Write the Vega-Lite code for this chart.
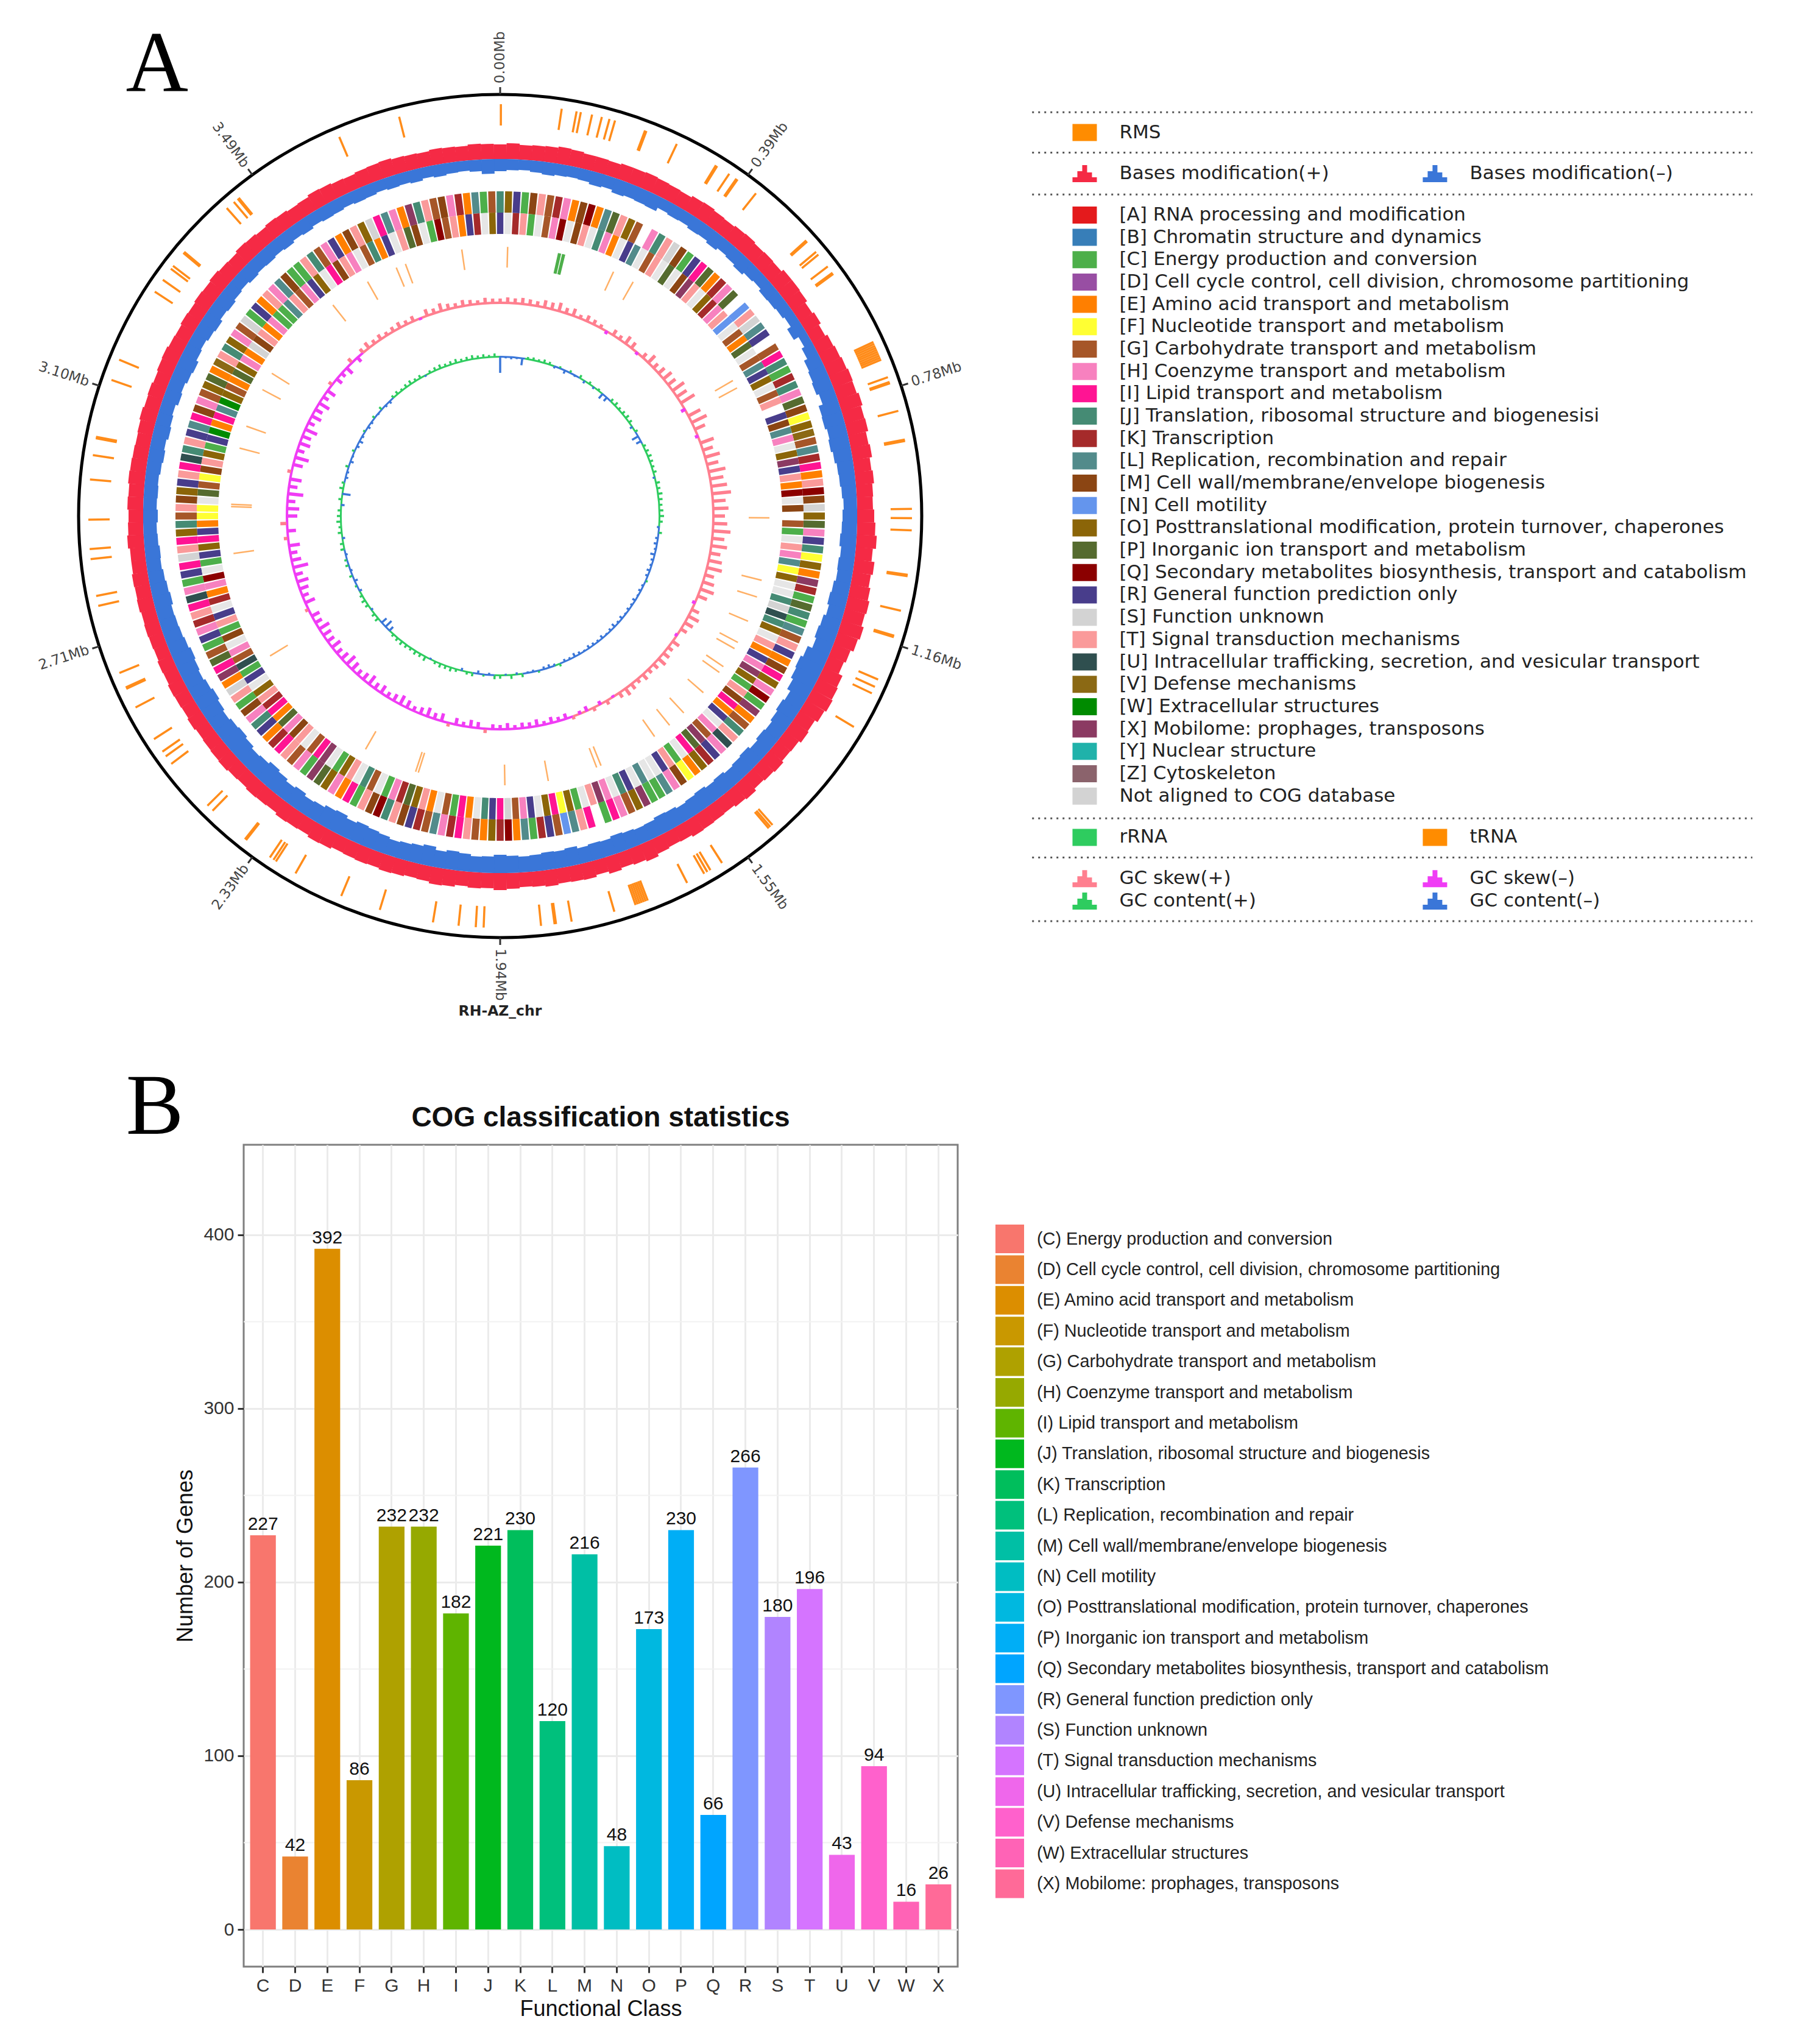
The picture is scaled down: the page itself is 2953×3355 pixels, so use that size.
{"$schema":"https://vega.github.io/schema/vega-lite/v6.json","padding":0,"background":"white","spacing":52,"config":{"view":{"stroke":null}},"resolve":{"scale":{"color":"independent","shape":"independent"},"legend":{"color":"independent"}},
"datasets":{
"ring":[{"a":0,"b":360}],
"ticks":[{"a":0,"t":"0.00Mb"},{"a":36,"t":"0.39Mb"},{"a":72,"t":"0.78Mb"},{"a":108,"t":"1.16Mb"},{"a":144,"t":"1.55Mb"},{"a":180,"t":"1.94Mb"},{"a":216,"t":"2.33Mb"},{"a":252,"t":"2.71Mb"},{"a":288,"t":"3.10Mb"},{"a":324,"t":"3.49Mb"}],
"rms":[{"a":0.1},{"a":8.6},{"a":10.7},{"a":11.3},{"a":12.9},{"a":14.3},{"a":15.4},{"a":16.2},{"a":20.6},{"a":20.8},{"a":25.4},{"a":31.6},{"a":31.8},{"a":33.8},{"a":35},{"a":35.2},{"a":38.4},{"a":48},{"a":48.2},{"a":50.1},{"a":50.6},{"a":52.7},{"a":53.8},{"a":54},{"a":65},{"a":65.3},{"a":65.6},{"a":65.9},{"a":66.2},{"a":66.5},{"a":66.8},{"a":67.1},{"a":67.4},{"a":67.7},{"a":70.3},{"a":71},{"a":71.2},{"a":75.2},{"a":79.3},{"a":79.5},{"a":89},{"a":90.3},{"a":92},{"a":98.2},{"a":98.4},{"a":103.3},{"a":106.9},{"a":107.1},{"a":113.4},{"a":114.5},{"a":115.5},{"a":120.8},{"a":138.6},{"a":139},{"a":139.3},{"a":147.4},{"a":149.3},{"a":149.8},{"a":150.3},{"a":153},{"a":159},{"a":159.3},{"a":159.6},{"a":159.9},{"a":160.2},{"a":160.5},{"a":160.8},{"a":163.9},{"a":170},{"a":172.2},{"a":172.4},{"a":174.3},{"a":182.3},{"a":183.4},{"a":185.8},{"a":189.4},{"a":197},{"a":202.7},{"a":209.8},{"a":213},{"a":213.4},{"a":214},{"a":218.1},{"a":218.3},{"a":224.3},{"a":225.3},{"a":233},{"a":234.3},{"a":235.1},{"a":237.2},{"a":242.3},{"a":245.2},{"a":245.4},{"a":247.6},{"a":257.4},{"a":258.8},{"a":264},{"a":265.4},{"a":269.5},{"a":275.1},{"a":278.5},{"a":280.9},{"a":281.1},{"a":289.3},{"a":292.3},{"a":303},{"a":305},{"a":306.9},{"a":307.4},{"a":309.7},{"a":309.9},{"a":318.4},{"a":319.7},{"a":320.4},{"a":320.6},{"a":337},{"a":345.8}],
"trna":[{"a":1.6},{"a":24.9},{"a":29.6},{"a":59.8},{"a":61.6},{"a":90.4},{"a":103.8},{"a":107.5},{"a":113},{"a":118},{"a":119.5},{"a":124},{"a":125.5},{"a":131},{"a":137},{"a":141},{"a":145},{"a":158},{"a":159},{"a":169.7},{"a":179},{"a":197.7},{"a":198.3},{"a":210},{"a":238.7},{"a":262},{"a":272},{"a":272.5},{"a":284.6},{"a":289.5},{"a":298},{"a":302},{"a":321.6},{"a":330.5},{"a":337.3},{"a":339.4},{"a":351.8}],
"rrna":[{"a":12.6},{"a":12.9},{"a":13.5},{"a":13.8}],
"bmp":[{"a":0,"v":24},{"a":2,"v":26},{"a":4,"v":24},{"a":6,"v":25},{"a":8,"v":26},{"a":10,"v":28},{"a":12,"v":27},{"a":14,"v":25},{"a":16,"v":25},{"a":18,"v":24},{"a":20,"v":26},{"a":22,"v":26},{"a":24,"v":27},{"a":26,"v":26},{"a":28,"v":25},{"a":30,"v":24},{"a":32,"v":27},{"a":34,"v":28},{"a":36,"v":26},{"a":38,"v":25},{"a":40,"v":27},{"a":42,"v":28},{"a":44,"v":26},{"a":46,"v":27},{"a":48,"v":26},{"a":50,"v":30},{"a":52,"v":30},{"a":54,"v":29},{"a":56,"v":25},{"a":58,"v":28},{"a":60,"v":24},{"a":62,"v":28},{"a":64,"v":30},{"a":66,"v":32},{"a":68,"v":34},{"a":70,"v":33},{"a":72,"v":36},{"a":74,"v":33},{"a":76,"v":34},{"a":78,"v":30},{"a":80,"v":32},{"a":82,"v":28},{"a":84,"v":30},{"a":86,"v":27},{"a":88,"v":26},{"a":90,"v":28},{"a":92,"v":30},{"a":94,"v":33},{"a":96,"v":28},{"a":98,"v":33},{"a":100,"v":30},{"a":102,"v":33},{"a":104,"v":36},{"a":106,"v":34},{"a":108,"v":38},{"a":110,"v":35},{"a":112,"v":30},{"a":114,"v":27},{"a":116,"v":34},{"a":118,"v":36},{"a":120,"v":38},{"a":122,"v":35},{"a":124,"v":30},{"a":126,"v":32},{"a":128,"v":28},{"a":130,"v":27},{"a":132,"v":30},{"a":134,"v":28},{"a":136,"v":26},{"a":138,"v":30},{"a":140,"v":28},{"a":142,"v":25},{"a":144,"v":26},{"a":146,"v":27},{"a":148,"v":28},{"a":150,"v":25},{"a":152,"v":24},{"a":154,"v":26},{"a":156,"v":30},{"a":158,"v":27},{"a":160,"v":25},{"a":162,"v":28},{"a":164,"v":24},{"a":166,"v":27},{"a":168,"v":26},{"a":170,"v":25},{"a":172,"v":27},{"a":174,"v":25},{"a":176,"v":24},{"a":178,"v":26},{"a":180,"v":28},{"a":182,"v":25},{"a":184,"v":26},{"a":186,"v":24},{"a":188,"v":27},{"a":190,"v":28},{"a":192,"v":25},{"a":194,"v":24},{"a":196,"v":26},{"a":198,"v":27},{"a":200,"v":25},{"a":202,"v":26},{"a":204,"v":25},{"a":206,"v":24},{"a":208,"v":27},{"a":210,"v":28},{"a":212,"v":25},{"a":214,"v":26},{"a":216,"v":27},{"a":218,"v":24},{"a":220,"v":25},{"a":222,"v":26},{"a":224,"v":24},{"a":226,"v":25},{"a":228,"v":27},{"a":230,"v":26},{"a":232,"v":25},{"a":234,"v":24},{"a":236,"v":26},{"a":238,"v":24},{"a":240,"v":25},{"a":242,"v":26},{"a":244,"v":24},{"a":246,"v":25},{"a":248,"v":23},{"a":250,"v":24},{"a":252,"v":25},{"a":254,"v":24},{"a":256,"v":26},{"a":258,"v":25},{"a":260,"v":26},{"a":262,"v":24},{"a":264,"v":24},{"a":266,"v":27},{"a":268,"v":25},{"a":270,"v":24},{"a":272,"v":26},{"a":274,"v":25},{"a":276,"v":27},{"a":278,"v":26},{"a":280,"v":25},{"a":282,"v":24},{"a":284,"v":25},{"a":286,"v":27},{"a":288,"v":25},{"a":290,"v":26},{"a":292,"v":24},{"a":294,"v":26},{"a":296,"v":27},{"a":298,"v":25},{"a":300,"v":24},{"a":302,"v":26},{"a":304,"v":25},{"a":306,"v":27},{"a":308,"v":26},{"a":310,"v":28},{"a":312,"v":26},{"a":314,"v":25},{"a":316,"v":28},{"a":318,"v":27},{"a":320,"v":25},{"a":322,"v":27},{"a":324,"v":26},{"a":326,"v":24},{"a":328,"v":25},{"a":330,"v":28},{"a":332,"v":27},{"a":334,"v":25},{"a":336,"v":24},{"a":338,"v":26},{"a":340,"v":27},{"a":342,"v":28},{"a":344,"v":26},{"a":346,"v":25},{"a":348,"v":24},{"a":350,"v":26},{"a":352,"v":25},{"a":354,"v":24},{"a":356,"v":26},{"a":358,"v":25}],
"bmm":[{"a":0,"v":20},{"a":2,"v":18},{"a":4,"v":17},{"a":6,"v":19},{"a":8,"v":21},{"a":10,"v":19},{"a":12,"v":18},{"a":14,"v":19},{"a":16,"v":22},{"a":18,"v":20},{"a":20,"v":24},{"a":22,"v":22},{"a":24,"v":23},{"a":26,"v":24},{"a":28,"v":18},{"a":30,"v":20},{"a":32,"v":19},{"a":34,"v":22},{"a":36,"v":21},{"a":38,"v":24},{"a":40,"v":20},{"a":42,"v":22},{"a":44,"v":25},{"a":46,"v":21},{"a":48,"v":19},{"a":50,"v":23},{"a":52,"v":22},{"a":54,"v":20},{"a":56,"v":17},{"a":58,"v":24},{"a":60,"v":15},{"a":62,"v":20},{"a":64,"v":26},{"a":66,"v":28},{"a":68,"v":30},{"a":70,"v":26},{"a":72,"v":33},{"a":74,"v":34},{"a":76,"v":31},{"a":78,"v":33},{"a":80,"v":30},{"a":82,"v":27},{"a":84,"v":26},{"a":86,"v":24},{"a":88,"v":22},{"a":90,"v":24},{"a":92,"v":25},{"a":94,"v":27},{"a":96,"v":24},{"a":98,"v":26},{"a":100,"v":25},{"a":102,"v":28},{"a":104,"v":30},{"a":106,"v":27},{"a":108,"v":31},{"a":110,"v":33},{"a":112,"v":30},{"a":114,"v":38},{"a":116,"v":42},{"a":118,"v":40},{"a":120,"v":36},{"a":122,"v":30},{"a":124,"v":33},{"a":126,"v":30},{"a":128,"v":27},{"a":130,"v":29},{"a":132,"v":26},{"a":134,"v":30},{"a":136,"v":28},{"a":138,"v":26},{"a":140,"v":29},{"a":142,"v":27},{"a":144,"v":30},{"a":146,"v":28},{"a":148,"v":26},{"a":150,"v":29},{"a":152,"v":30},{"a":154,"v":27},{"a":156,"v":26},{"a":158,"v":28},{"a":160,"v":30},{"a":162,"v":27},{"a":164,"v":28},{"a":166,"v":26},{"a":168,"v":30},{"a":170,"v":28},{"a":172,"v":29},{"a":174,"v":27},{"a":176,"v":26},{"a":178,"v":28},{"a":180,"v":30},{"a":182,"v":27},{"a":184,"v":26},{"a":186,"v":29},{"a":188,"v":31},{"a":190,"v":28},{"a":192,"v":33},{"a":194,"v":30},{"a":196,"v":28},{"a":198,"v":26},{"a":200,"v":29},{"a":202,"v":31},{"a":204,"v":33},{"a":206,"v":30},{"a":208,"v":34},{"a":210,"v":32},{"a":212,"v":28},{"a":214,"v":26},{"a":216,"v":30},{"a":218,"v":27},{"a":220,"v":31},{"a":222,"v":34},{"a":224,"v":30},{"a":226,"v":28},{"a":228,"v":32},{"a":230,"v":35},{"a":232,"v":33},{"a":234,"v":30},{"a":236,"v":33},{"a":238,"v":36},{"a":240,"v":33},{"a":242,"v":30},{"a":244,"v":32},{"a":246,"v":34},{"a":248,"v":31},{"a":250,"v":29},{"a":252,"v":28},{"a":254,"v":27},{"a":256,"v":30},{"a":258,"v":28},{"a":260,"v":26},{"a":262,"v":24},{"a":264,"v":25},{"a":266,"v":23},{"a":268,"v":22},{"a":270,"v":24},{"a":272,"v":22},{"a":274,"v":23},{"a":276,"v":22},{"a":278,"v":24},{"a":280,"v":26},{"a":282,"v":24},{"a":284,"v":27},{"a":286,"v":25},{"a":288,"v":23},{"a":290,"v":27},{"a":292,"v":25},{"a":294,"v":28},{"a":296,"v":30},{"a":298,"v":26},{"a":300,"v":24},{"a":302,"v":27},{"a":304,"v":29},{"a":306,"v":25},{"a":308,"v":27},{"a":310,"v":24},{"a":312,"v":22},{"a":314,"v":25},{"a":316,"v":23},{"a":318,"v":24},{"a":320,"v":22},{"a":322,"v":24},{"a":324,"v":21},{"a":326,"v":23},{"a":328,"v":20},{"a":330,"v":22},{"a":332,"v":21},{"a":334,"v":19},{"a":336,"v":21},{"a":338,"v":20},{"a":340,"v":18},{"a":342,"v":20},{"a":344,"v":19},{"a":346,"v":21},{"a":348,"v":18},{"a":350,"v":20},{"a":352,"v":18},{"a":354,"v":17},{"a":356,"v":19},{"a":358,"v":24}],
"cogo":[{"a":0,"c":"J"},{"a":1.5,"c":"O"},{"a":3,"c":"R"},{"a":4.5,"c":"C"},{"a":6,"c":"M"},{"a":7.5,"c":"T"},{"a":9,"c":"G"},{"a":10.5,"c":"K"},{"a":12,"c":"H"},{"a":13.5,"c":"E"},{"a":15,"c":"M"},{"a":16.5,"c":"Q"},{"a":18,"c":"E"},{"a":19.5,"c":"L"},{"a":21,"c":"P"},{"a":22.5,"c":"T"},{"a":24,"c":"O"},{"a":25.5,"c":"G"},{"a":28.5,"c":"H"},{"a":30,"c":"J"},{"a":31.5,"c":"T"},{"a":33,"c":"S"},{"a":34.5,"c":"M"},{"a":36,"c":"C"},{"a":37.5,"c":"R"},{"a":39,"c":"I"},{"a":40.5,"c":"P"},{"a":42,"c":"E"},{"a":43.5,"c":"K"},{"a":45,"c":"H"},{"a":46.5,"c":"P"},{"a":49.5,"c":"N"},{"a":51,"c":"T"},{"a":52.5,"c":"S"},{"a":54,"c":"L"},{"a":55.5,"c":"R"},{"a":58.5,"c":"G"},{"a":60,"c":"I"},{"a":61.5,"c":"J"},{"a":63,"c":"C"},{"a":64.5,"c":"K"},{"a":66,"c":"J"},{"a":67.5,"c":"H"},{"a":69,"c":"P"},{"a":70.5,"c":"M"},{"a":72,"c":"F"},{"a":73.5,"c":"O"},{"a":75,"c":"V"},{"a":76.5,"c":"G"},{"a":78,"c":"L"},{"a":79.5,"c":"K"},{"a":81,"c":"I"},{"a":82.5,"c":"E"},{"a":84,"c":"T"},{"a":85.5,"c":"Q"},{"a":87,"c":"M"},{"a":88.5,"c":"S"},{"a":90,"c":"O"},{"a":91.5,"c":"P"},{"a":93,"c":"H"},{"a":94.5,"c":"R"},{"a":96,"c":"J"},{"a":97.5,"c":"F"},{"a":99,"c":"O"},{"a":100.5,"c":"E"},{"a":102,"c":"X"},{"a":103.5,"c":"K"},{"a":105,"c":"C"},{"a":106.5,"c":"P"},{"a":108,"c":"J"},{"a":109.5,"c":"C"},{"a":111,"c":"L"},{"a":112.5,"c":"G"},{"a":114,"c":"T"},{"a":115.5,"c":"R"},{"a":117,"c":"E"},{"a":118.5,"c":"M"},{"a":120,"c":"I"},{"a":121.5,"c":"O"},{"a":123,"c":"H"},{"a":124.5,"c":"Q"},{"a":126,"c":"C"},{"a":127.5,"c":"X"},{"a":129,"c":"E"},{"a":130.5,"c":"G"},{"a":132,"c":"J"},{"a":133.5,"c":"T"},{"a":135,"c":"U"},{"a":136.5,"c":"H"},{"a":138,"c":"R"},{"a":139.5,"c":"K"},{"a":141,"c":"O"},{"a":142.5,"c":"E"},{"a":144,"c":"F"},{"a":145.5,"c":"M"},{"a":147,"c":"H"},{"a":148.5,"c":"L"},{"a":150,"c":"C"},{"a":151.5,"c":"C"},{"a":153,"c":"X"},{"a":154.5,"c":"O"},{"a":156,"c":"G"},{"a":157.5,"c":"H"},{"a":159,"c":"I"},{"a":160.5,"c":"C"},{"a":163.5,"c":"I"},{"a":165,"c":"T"},{"a":166.5,"c":"L"},{"a":168,"c":"N"},{"a":169.5,"c":"G"},{"a":171,"c":"R"},{"a":172.5,"c":"K"},{"a":174,"c":"C"},{"a":175.5,"c":"L"},{"a":177,"c":"E"},{"a":178.5,"c":"Q"},{"a":180,"c":"K"},{"a":181.5,"c":"O"},{"a":183,"c":"E"},{"a":184.5,"c":"G"},{"a":186,"c":"T"},{"a":187.5,"c":"I"},{"a":189,"c":"K"},{"a":190.5,"c":"H"},{"a":192,"c":"L"},{"a":193.5,"c":"G"},{"a":195,"c":"K"},{"a":196.5,"c":"R"},{"a":198,"c":"M"},{"a":199.5,"c":"T"},{"a":201,"c":"J"},{"a":202.5,"c":"Q"},{"a":204,"c":"M"},{"a":205.5,"c":"T"},{"a":207,"c":"C"},{"a":208.5,"c":"I"},{"a":210,"c":"E"},{"a":211.5,"c":"H"},{"a":213,"c":"O"},{"a":214.5,"c":"P"},{"a":216,"c":"X"},{"a":217.5,"c":"C"},{"a":219,"c":"H"},{"a":220.5,"c":"G"},{"a":222,"c":"T"},{"a":223.5,"c":"I"},{"a":225,"c":"K"},{"a":226.5,"c":"E"},{"a":228,"c":"R"},{"a":229.5,"c":"J"},{"a":231,"c":"H"},{"a":232.5,"c":"M"},{"a":234,"c":"C"},{"a":235.5,"c":"T"},{"a":237,"c":"S"},{"a":238.5,"c":"E"},{"a":240,"c":"X"},{"a":241.5,"c":"I"},{"a":243,"c":"P"},{"a":244.5,"c":"G"},{"a":246,"c":"C"},{"a":247.5,"c":"R"},{"a":249,"c":"H"},{"a":250.5,"c":"K"},{"a":252,"c":"T"},{"a":253.5,"c":"I"},{"a":255,"c":"U"},{"a":256.5,"c":"H"},{"a":258,"c":"C"},{"a":259.5,"c":"R"},{"a":261,"c":"I"},{"a":262.5,"c":"S"},{"a":264,"c":"T"},{"a":265.5,"c":"I"},{"a":267,"c":"O"},{"a":268.5,"c":"J"},{"a":270,"c":"G"},{"a":271.5,"c":"T"},{"a":273,"c":"M"},{"a":274.5,"c":"O"},{"a":276,"c":"R"},{"a":277.5,"c":"T"},{"a":279,"c":"I"},{"a":280.5,"c":"U"},{"a":282,"c":"J"},{"a":283.5,"c":"T"},{"a":285,"c":"R"},{"a":286.5,"c":"L"},{"a":288,"c":"I"},{"a":289.5,"c":"M"},{"a":291,"c":"H"},{"a":292.5,"c":"G"},{"a":294,"c":"O"},{"a":295.5,"c":"P"},{"a":297,"c":"E"},{"a":298.5,"c":"V"},{"a":300,"c":"T"},{"a":301.5,"c":"J"},{"a":303,"c":"O"},{"a":304.5,"c":"H"},{"a":306,"c":"G"},{"a":307.5,"c":"S"},{"a":309,"c":"C"},{"a":310.5,"c":"R"},{"a":312,"c":"E"},{"a":313.5,"c":"T"},{"a":315,"c":"H"},{"a":316.5,"c":"L"},{"a":318,"c":"M"},{"a":319.5,"c":"C"},{"a":321,"c":"C"},{"a":322.5,"c":"T"},{"a":324,"c":"J"},{"a":325.5,"c":"G"},{"a":327,"c":"H"},{"a":328.5,"c":"R"},{"a":330,"c":"E"},{"a":331.5,"c":"M"},{"a":333,"c":"T"},{"a":334.5,"c":"O"},{"a":336,"c":"S"},{"a":337.5,"c":"I"},{"a":339,"c":"L"},{"a":340.5,"c":"H"},{"a":342,"c":"E"},{"a":343.5,"c":"X"},{"a":345,"c":"J"},{"a":346.5,"c":"T"},{"a":348,"c":"G"},{"a":349.5,"c":"M"},{"a":351,"c":"H"},{"a":352.5,"c":"K"},{"a":354,"c":"E"},{"a":355.5,"c":"L"},{"a":357,"c":"C"},{"a":358.5,"c":"G"}],
"cogi":[{"a":0,"c":"R"},{"a":1.5,"c":"-"},{"a":3,"c":"K"},{"a":4.5,"c":"T"},{"a":6,"c":"C"},{"a":7.5,"c":"-"},{"a":9,"c":"G"},{"a":10.5,"c":"H"},{"a":12,"c":"Q"},{"a":13.5,"c":"-"},{"a":15,"c":"M"},{"a":16.5,"c":"T"},{"a":18,"c":"-"},{"a":19.5,"c":"J"},{"a":21,"c":"H"},{"a":22.5,"c":"E"},{"a":24,"c":"-"},{"a":25.5,"c":"R"},{"a":27,"c":"L"},{"a":28.5,"c":"-"},{"a":30,"c":"G"},{"a":31.5,"c":"T"},{"a":33,"c":"-"},{"a":34.5,"c":"P"},{"a":36,"c":"-"},{"a":37.5,"c":"M"},{"a":39,"c":"X"},{"a":40.5,"c":"T"},{"a":42,"c":"-"},{"a":43.5,"c":"O"},{"a":45,"c":"K"},{"a":46.5,"c":"H"},{"a":48,"c":"T"},{"a":49.5,"c":"N"},{"a":51,"c":"-"},{"a":52.5,"c":"G"},{"a":54,"c":"E"},{"a":55.5,"c":"P"},{"a":57,"c":"-"},{"a":58.5,"c":"G"},{"a":60,"c":"L"},{"a":61.5,"c":"R"},{"a":63,"c":"O"},{"a":64.5,"c":"-"},{"a":66,"c":"G"},{"a":67.5,"c":"T"},{"a":70.5,"c":"R"},{"a":72,"c":"M"},{"a":73.5,"c":"L"},{"a":75,"c":"H"},{"a":76.5,"c":"-"},{"a":78,"c":"O"},{"a":79.5,"c":"X"},{"a":81,"c":"R"},{"a":82.5,"c":"T"},{"a":84,"c":"E"},{"a":85.5,"c":"Q"},{"a":87,"c":"-"},{"a":88.5,"c":"M"},{"a":91.5,"c":"G"},{"a":93,"c":"C"},{"a":94.5,"c":"-"},{"a":96,"c":"T"},{"a":97.5,"c":"H"},{"a":99,"c":"L"},{"a":100.5,"c":"F"},{"a":102,"c":"O"},{"a":103.5,"c":"-"},{"a":105,"c":"-"},{"a":106.5,"c":"J"},{"a":108,"c":"S"},{"a":109.5,"c":"U"},{"a":111,"c":"J"},{"a":112.5,"c":"O"},{"a":114,"c":"-"},{"a":115.5,"c":"T"},{"a":117,"c":"E"},{"a":118.5,"c":"R"},{"a":120,"c":"H"},{"a":121.5,"c":"X"},{"a":123,"c":"O"},{"a":124.5,"c":"C"},{"a":126,"c":"T"},{"a":127.5,"c":"M"},{"a":129,"c":"I"},{"a":130.5,"c":"E"},{"a":132,"c":"R"},{"a":133.5,"c":"-"},{"a":135,"c":"H"},{"a":136.5,"c":"G"},{"a":138,"c":"X"},{"a":139.5,"c":"P"},{"a":141,"c":"I"},{"a":142.5,"c":"-"},{"a":144,"c":"C"},{"a":145.5,"c":"T"},{"a":147,"c":"R"},{"a":148.5,"c":"-"},{"a":150,"c":"-"},{"a":151.5,"c":"L"},{"a":153,"c":"-"},{"a":154.5,"c":"R"},{"a":156,"c":"J"},{"a":157.5,"c":"-"},{"a":159,"c":"H"},{"a":160.5,"c":"X"},{"a":162,"c":"T"},{"a":163.5,"c":"-"},{"a":165,"c":"C"},{"a":166.5,"c":"O"},{"a":168,"c":"F"},{"a":169.5,"c":"I"},{"a":171,"c":"O"},{"a":172.5,"c":"-"},{"a":174,"c":"R"},{"a":175.5,"c":"H"},{"a":177,"c":"G"},{"a":178.5,"c":"S"},{"a":180,"c":"I"},{"a":181.5,"c":"R"},{"a":183,"c":"J"},{"a":184.5,"c":"-"},{"a":186,"c":"E"},{"a":187.5,"c":"I"},{"a":189,"c":"C"},{"a":190.5,"c":"G"},{"a":192,"c":"-"},{"a":193.5,"c":"E"},{"a":195,"c":"T"},{"a":196.5,"c":"O"},{"a":198,"c":"P"},{"a":199.5,"c":"K"},{"a":201,"c":"H"},{"a":202.5,"c":"C"},{"a":204,"c":"-"},{"a":205.5,"c":"G"},{"a":207,"c":"J"},{"a":208.5,"c":"-"},{"a":210,"c":"T"},{"a":211.5,"c":"O"},{"a":213,"c":"C"},{"a":214.5,"c":"-"},{"a":216,"c":"X"},{"a":217.5,"c":"I"},{"a":219,"c":"G"},{"a":220.5,"c":"-"},{"a":222,"c":"T"},{"a":223.5,"c":"M"},{"a":225,"c":"H"},{"a":226.5,"c":"P"},{"a":228,"c":"E"},{"a":229.5,"c":"I"},{"a":231,"c":"K"},{"a":232.5,"c":"T"},{"a":234,"c":"O"},{"a":235.5,"c":"-"},{"a":237,"c":"R"},{"a":238.5,"c":"C"},{"a":240,"c":"U"},{"a":241.5,"c":"G"},{"a":243,"c":"H"},{"a":244.5,"c":"-"},{"a":246,"c":"M"},{"a":247.5,"c":"C"},{"a":249,"c":"T"},{"a":250.5,"c":"R"},{"a":252,"c":"-"},{"a":253.5,"c":"K"},{"a":255,"c":"E"},{"a":256.5,"c":"H"},{"a":258,"c":"Q"},{"a":259.5,"c":"-"},{"a":261,"c":"C"},{"a":262.5,"c":"R"},{"a":264,"c":"O"},{"a":265.5,"c":"I"},{"a":267,"c":"R"},{"a":268.5,"c":"E"},{"a":270,"c":"F"},{"a":271.5,"c":"F"},{"a":273,"c":"-"},{"a":274.5,"c":"P"},{"a":276,"c":"G"},{"a":277.5,"c":"F"},{"a":279,"c":"M"},{"a":280.5,"c":"T"},{"a":282,"c":"O"},{"a":283.5,"c":"C"},{"a":285,"c":"R"},{"a":286.5,"c":"W"},{"a":288,"c":"E"},{"a":289.5,"c":"I"},{"a":291,"c":"L"},{"a":292.5,"c":"W"},{"a":294,"c":"O"},{"a":295.5,"c":"G"},{"a":297,"c":"E"},{"a":298.5,"c":"P"},{"a":300,"c":"O"},{"a":301.5,"c":"H"},{"a":303,"c":"E"},{"a":304.5,"c":"S"},{"a":306,"c":"M"},{"a":307.5,"c":"T"},{"a":309,"c":"E"},{"a":310.5,"c":"H"},{"a":312,"c":"C"},{"a":313.5,"c":"C"},{"a":315,"c":"L"},{"a":316.5,"c":"T"},{"a":318,"c":"G"},{"a":319.5,"c":"H"},{"a":321,"c":"R"},{"a":322.5,"c":"O"},{"a":324,"c":"-"},{"a":325.5,"c":"I"},{"a":327,"c":"M"},{"a":328.5,"c":"T"},{"a":330,"c":"H"},{"a":331.5,"c":"-"},{"a":333,"c":"G"},{"a":334.5,"c":"J"},{"a":336,"c":"E"},{"a":337.5,"c":"R"},{"a":339,"c":"-"},{"a":340.5,"c":"T"},{"a":342,"c":"P"},{"a":343.5,"c":"M"},{"a":345,"c":"-"},{"a":346.5,"c":"C"},{"a":348,"c":"Q"},{"a":349.5,"c":"G"},{"a":351,"c":"T"},{"a":352.5,"c":"E"},{"a":354,"c":"R"},{"a":355.5,"c":"K"},{"a":357,"c":"-"},{"a":358.5,"c":"O"}],
"skew":[{"a":0,"v":6},{"a":2,"v":8},{"a":4,"v":7},{"a":6,"v":9},{"a":8,"v":8},{"a":10,"v":7},{"a":12,"v":11},{"a":14,"v":10},{"a":16,"v":13},{"a":18,"v":8},{"a":20,"v":11},{"a":22,"v":5},{"a":24,"v":9},{"a":26,"v":7},{"a":28,"v":5},{"a":30,"v":-6},{"a":32,"v":9},{"a":34,"v":6},{"a":36,"v":13},{"a":38,"v":10},{"a":40,"v":-5},{"a":42,"v":8},{"a":44,"v":15},{"a":46,"v":9},{"a":48,"v":12},{"a":50,"v":16},{"a":52,"v":14},{"a":54,"v":22},{"a":56,"v":18},{"a":58,"v":25},{"a":60,"v":-8},{"a":62,"v":21},{"a":64,"v":26},{"a":66,"v":17},{"a":68,"v":-6},{"a":70,"v":22},{"a":72,"v":16},{"a":74,"v":24},{"a":76,"v":18},{"a":78,"v":27},{"a":80,"v":21},{"a":82,"v":25},{"a":84,"v":30},{"a":86,"v":20},{"a":88,"v":24},{"a":90,"v":18},{"a":92,"v":22},{"a":94,"v":28},{"a":96,"v":19},{"a":98,"v":25},{"a":100,"v":16},{"a":102,"v":21},{"a":104,"v":24},{"a":106,"v":14},{"a":108,"v":18},{"a":110,"v":22},{"a":112,"v":15},{"a":114,"v":-6},{"a":116,"v":12},{"a":118,"v":18},{"a":120,"v":14},{"a":122,"v":10},{"a":124,"v":-5},{"a":126,"v":12},{"a":128,"v":8},{"a":130,"v":11},{"a":132,"v":14},{"a":134,"v":9},{"a":136,"v":7},{"a":138,"v":10},{"a":140,"v":6},{"a":142,"v":9},{"a":144,"v":12},{"a":146,"v":8},{"a":148,"v":-4},{"a":150,"v":6},{"a":152,"v":-7},{"a":154,"v":5},{"a":156,"v":-9},{"a":158,"v":-6},{"a":160,"v":4},{"a":162,"v":-10},{"a":164,"v":-8},{"a":166,"v":-11},{"a":168,"v":-7},{"a":170,"v":-12},{"a":172,"v":-9},{"a":174,"v":-10},{"a":176,"v":-7},{"a":178,"v":-11},{"a":180,"v":-8},{"a":182,"v":-9},{"a":184,"v":6},{"a":186,"v":-11},{"a":188,"v":-13},{"a":190,"v":-8},{"a":192,"v":-12},{"a":194,"v":5},{"a":196,"v":-14},{"a":198,"v":-11},{"a":200,"v":-16},{"a":202,"v":-12},{"a":204,"v":-9},{"a":206,"v":-14},{"a":208,"v":-17},{"a":210,"v":-13},{"a":212,"v":-10},{"a":214,"v":-15},{"a":216,"v":-12},{"a":218,"v":-18},{"a":220,"v":-14},{"a":222,"v":-11},{"a":224,"v":-16},{"a":226,"v":-20},{"a":228,"v":-15},{"a":230,"v":-12},{"a":232,"v":-18},{"a":234,"v":-14},{"a":236,"v":-16},{"a":238,"v":-20},{"a":240,"v":-13},{"a":242,"v":-15},{"a":244,"v":5},{"a":246,"v":-18},{"a":248,"v":-12},{"a":250,"v":-16},{"a":252,"v":-20},{"a":254,"v":-14},{"a":256,"v":-26},{"a":258,"v":-17},{"a":260,"v":-13},{"a":262,"v":-19},{"a":264,"v":6},{"a":266,"v":-15},{"a":268,"v":10},{"a":270,"v":-18},{"a":272,"v":-21},{"a":274,"v":-14},{"a":276,"v":-26},{"a":278,"v":-15},{"a":280,"v":-20},{"a":282,"v":6},{"a":284,"v":-17},{"a":286,"v":-24},{"a":288,"v":-13},{"a":290,"v":-19},{"a":292,"v":-16},{"a":294,"v":-22},{"a":296,"v":-12},{"a":298,"v":-18},{"a":300,"v":-14},{"a":302,"v":-20},{"a":304,"v":-11},{"a":306,"v":-16},{"a":308,"v":6},{"a":310,"v":-12},{"a":312,"v":-9},{"a":314,"v":-14},{"a":316,"v":8},{"a":318,"v":-10},{"a":320,"v":7},{"a":322,"v":10},{"a":324,"v":6},{"a":326,"v":8},{"a":328,"v":5},{"a":330,"v":7},{"a":332,"v":9},{"a":334,"v":6},{"a":336,"v":8},{"a":338,"v":-4},{"a":340,"v":10},{"a":342,"v":7},{"a":344,"v":12},{"a":346,"v":8},{"a":348,"v":6},{"a":350,"v":9},{"a":352,"v":7},{"a":354,"v":5},{"a":356,"v":8},{"a":358,"v":6}],
"gc":[{"a":0,"v":-27},{"a":2,"v":-3},{"a":4,"v":-4},{"a":6,"v":-3},{"a":8,"v":-12},{"a":10,"v":3},{"a":12,"v":4},{"a":14,"v":3},{"a":16,"v":5},{"a":18,"v":4},{"a":20,"v":-4},{"a":22,"v":3},{"a":24,"v":-6},{"a":26,"v":4},{"a":28,"v":-3},{"a":30,"v":5},{"a":32,"v":-5},{"a":34,"v":4},{"a":36,"v":-4},{"a":38,"v":3},{"a":40,"v":-10},{"a":42,"v":-8},{"a":44,"v":5},{"a":46,"v":6},{"a":48,"v":4},{"a":50,"v":5},{"a":52,"v":6},{"a":54,"v":5},{"a":56,"v":-5},{"a":58,"v":4},{"a":60,"v":-12},{"a":62,"v":-9},{"a":64,"v":4},{"a":66,"v":5},{"a":68,"v":6},{"a":70,"v":5},{"a":72,"v":4},{"a":74,"v":5},{"a":76,"v":-4},{"a":78,"v":6},{"a":80,"v":5},{"a":82,"v":7},{"a":84,"v":6},{"a":86,"v":5},{"a":88,"v":6},{"a":90,"v":7},{"a":92,"v":5},{"a":94,"v":-4},{"a":96,"v":5},{"a":98,"v":-5},{"a":100,"v":-6},{"a":102,"v":-4},{"a":104,"v":-8},{"a":106,"v":-5},{"a":108,"v":-4},{"a":110,"v":-6},{"a":112,"v":-5},{"a":114,"v":3},{"a":116,"v":-4},{"a":118,"v":-5},{"a":120,"v":-3},{"a":122,"v":-6},{"a":124,"v":-4},{"a":126,"v":-5},{"a":128,"v":-3},{"a":130,"v":-6},{"a":132,"v":-4},{"a":134,"v":-7},{"a":136,"v":-5},{"a":138,"v":-3},{"a":140,"v":-6},{"a":142,"v":-4},{"a":144,"v":-5},{"a":146,"v":-6},{"a":148,"v":-3},{"a":150,"v":-5},{"a":152,"v":-7},{"a":154,"v":-4},{"a":156,"v":-5},{"a":158,"v":4},{"a":160,"v":-4},{"a":162,"v":-6},{"a":164,"v":-5},{"a":166,"v":3},{"a":168,"v":-4},{"a":170,"v":-3},{"a":172,"v":5},{"a":174,"v":-4},{"a":176,"v":6},{"a":178,"v":-3},{"a":180,"v":5},{"a":182,"v":6},{"a":184,"v":-4},{"a":186,"v":3},{"a":188,"v":-6},{"a":190,"v":5},{"a":192,"v":4},{"a":194,"v":-5},{"a":196,"v":4},{"a":198,"v":6},{"a":200,"v":5},{"a":202,"v":6},{"a":204,"v":4},{"a":206,"v":-3},{"a":208,"v":7},{"a":210,"v":5},{"a":212,"v":6},{"a":214,"v":4},{"a":216,"v":5},{"a":218,"v":6},{"a":220,"v":5},{"a":222,"v":4},{"a":224,"v":-9},{"a":226,"v":-14},{"a":228,"v":-11},{"a":230,"v":6},{"a":232,"v":5},{"a":234,"v":-4},{"a":236,"v":5},{"a":238,"v":6},{"a":240,"v":4},{"a":242,"v":-5},{"a":244,"v":3},{"a":246,"v":-6},{"a":248,"v":5},{"a":250,"v":-4},{"a":252,"v":5},{"a":254,"v":4},{"a":256,"v":-4},{"a":258,"v":6},{"a":260,"v":5},{"a":262,"v":-5},{"a":264,"v":6},{"a":266,"v":4},{"a":268,"v":7},{"a":270,"v":6},{"a":272,"v":5},{"a":274,"v":-6},{"a":276,"v":5},{"a":278,"v":-14},{"a":280,"v":6},{"a":282,"v":4},{"a":284,"v":-5},{"a":286,"v":-4},{"a":288,"v":5},{"a":290,"v":-6},{"a":292,"v":-3},{"a":294,"v":4},{"a":296,"v":-5},{"a":298,"v":-7},{"a":300,"v":-4},{"a":302,"v":3},{"a":304,"v":-5},{"a":306,"v":-4},{"a":308,"v":4},{"a":310,"v":-3},{"a":312,"v":5},{"a":314,"v":-4},{"a":316,"v":-5},{"a":318,"v":4},{"a":320,"v":5},{"a":322,"v":3},{"a":324,"v":5},{"a":326,"v":6},{"a":328,"v":4},{"a":330,"v":5},{"a":332,"v":-3},{"a":334,"v":4},{"a":336,"v":5},{"a":338,"v":6},{"a":340,"v":4},{"a":342,"v":5},{"a":344,"v":6},{"a":346,"v":4},{"a":348,"v":5},{"a":350,"v":6},{"a":352,"v":4},{"a":354,"v":5},{"a":356,"v":3},{"a":358,"v":5}],
"gcbase":[{"a":0,"b":9,"s":"m"},{"a":9,"b":20,"s":"p"},{"a":20,"b":30,"s":"m"},{"a":30,"b":40,"s":"p"},{"a":40,"b":44,"s":"m"},{"a":44,"b":58,"s":"p"},{"a":58,"b":63,"s":"m"},{"a":63,"b":94,"s":"p"},{"a":94,"b":158,"s":"m"},{"a":158,"b":160,"s":"p"},{"a":160,"b":172,"s":"m"},{"a":172,"b":182,"s":"p"},{"a":182,"b":190,"s":"m"},{"a":190,"b":224,"s":"p"},{"a":224,"b":229,"s":"m"},{"a":229,"b":242,"s":"p"},{"a":242,"b":258,"s":"m"},{"a":258,"b":282,"s":"p"},{"a":282,"b":318,"s":"m"},{"a":318,"b":360,"s":"p"}],
"skewbase":[{"a":0,"b":160,"s":"p"},{"a":160,"b":320,"s":"m"},{"a":320,"b":360,"s":"p"}],
"legendA":[{"col":0,"row":-3.69,"label":"RMS","key":"RMS","kind":"box"},{"col":0,"row":-1.85,"label":"Bases modification(+)","key":"b+","kind":"hist"},{"col":1,"row":-1.85,"label":"Bases modification(–)","key":"b-","kind":"hist"},{"col":0,"row":0,"label":"[A] RNA processing and modification","key":"A","kind":"box"},{"col":0,"row":1,"label":"[B] Chromatin structure and dynamics","key":"B","kind":"box"},{"col":0,"row":2,"label":"[C] Energy production and conversion","key":"C","kind":"box"},{"col":0,"row":3,"label":"[D] Cell cycle control, cell division, chromosome partitioning","key":"D","kind":"box"},{"col":0,"row":4,"label":"[E] Amino acid transport and metabolism","key":"E","kind":"box"},{"col":0,"row":5,"label":"[F] Nucleotide transport and metabolism","key":"F","kind":"box"},{"col":0,"row":6,"label":"[G] Carbohydrate transport and metabolism","key":"G","kind":"box"},{"col":0,"row":7,"label":"[H] Coenzyme transport and metabolism","key":"H","kind":"box"},{"col":0,"row":8,"label":"[I] Lipid transport and metabolism","key":"I","kind":"box"},{"col":0,"row":9,"label":"[J] Translation, ribosomal structure and biogenesisi","key":"J","kind":"box"},{"col":0,"row":10,"label":"[K] Transcription","key":"K","kind":"box"},{"col":0,"row":11,"label":"[L] Replication, recombination and repair","key":"L","kind":"box"},{"col":0,"row":12,"label":"[M] Cell wall/membrane/envelope biogenesis","key":"M","kind":"box"},{"col":0,"row":13,"label":"[N] Cell motility","key":"N","kind":"box"},{"col":0,"row":14,"label":"[O] Posttranslational modification, protein turnover, chaperones","key":"O","kind":"box"},{"col":0,"row":15,"label":"[P] Inorganic ion transport and metabolism","key":"P","kind":"box"},{"col":0,"row":16,"label":"[Q] Secondary metabolites biosynthesis, transport and catabolism","key":"Q","kind":"box"},{"col":0,"row":17,"label":"[R] General function prediction only","key":"R","kind":"box"},{"col":0,"row":18,"label":"[S] Function unknown","key":"S","kind":"box"},{"col":0,"row":19,"label":"[T] Signal transduction mechanisms","key":"T","kind":"box"},{"col":0,"row":20,"label":"[U] Intracellular trafficking, secretion, and vesicular transport","key":"U","kind":"box"},{"col":0,"row":21,"label":"[V] Defense mechanisms","key":"V","kind":"box"},{"col":0,"row":22,"label":"[W] Extracellular structures","key":"W","kind":"box"},{"col":0,"row":23,"label":"[X] Mobilome: prophages, transposons","key":"X","kind":"box"},{"col":0,"row":24,"label":"[Y] Nuclear structure","key":"Y","kind":"box"},{"col":0,"row":25,"label":"[Z] Cytoskeleton","key":"Z","kind":"box"},{"col":0,"row":26,"label":"Not aligned to COG database","key":"-","kind":"box"},{"col":0,"row":27.85,"label":"rRNA","key":"rRNA","kind":"box"},{"col":1,"row":27.85,"label":"tRNA","key":"tRNA","kind":"box"},{"col":0,"row":29.7,"label":"GC skew(+)","key":"s+","kind":"hist"},{"col":1,"row":29.7,"label":"GC skew(–)","key":"s-","kind":"hist"},{"col":0,"row":30.7,"label":"GC content(+)","key":"g+","kind":"hist"},{"col":1,"row":30.7,"label":"GC content(–)","key":"g-","kind":"hist"}],
"seps":[{"row":-4.6},{"row":-2.79},{"row":-0.92},{"row":27},{"row":28.75},{"row":31.6}],
"cog":[{"cls":"C","label":"(C) Energy production and conversion","n":227},{"cls":"D","label":"(D) Cell cycle control, cell division, chromosome partitioning","n":42},{"cls":"E","label":"(E) Amino acid transport and metabolism","n":392},{"cls":"F","label":"(F) Nucleotide transport and metabolism","n":86},{"cls":"G","label":"(G) Carbohydrate transport and metabolism","n":232},{"cls":"H","label":"(H) Coenzyme transport and metabolism","n":232},{"cls":"I","label":"(I) Lipid transport and metabolism","n":182},{"cls":"J","label":"(J) Translation, ribosomal structure and biogenesis","n":221},{"cls":"K","label":"(K) Transcription","n":230},{"cls":"L","label":"(L) Replication, recombination and repair","n":120},{"cls":"M","label":"(M) Cell wall/membrane/envelope biogenesis","n":216},{"cls":"N","label":"(N) Cell motility","n":48},{"cls":"O","label":"(O) Posttranslational modification, protein turnover, chaperones","n":173},{"cls":"P","label":"(P) Inorganic ion transport and metabolism","n":230},{"cls":"Q","label":"(Q) Secondary metabolites biosynthesis, transport and catabolism","n":66},{"cls":"R","label":"(R) General function prediction only","n":266},{"cls":"S","label":"(S) Function unknown","n":180},{"cls":"T","label":"(T) Signal transduction mechanisms","n":196},{"cls":"U","label":"(U) Intracellular trafficking, secretion, and vesicular transport","n":43},{"cls":"V","label":"(V) Defense mechanisms","n":94},{"cls":"W","label":"(W) Extracellular structures","n":16},{"cls":"X","label":"(X) Mobilome: prophages, transposons","n":26}]
},
"vconcat":[
{"hconcat":[
{"width":1642,"height":1694,"layer":[
{"data":{"values":[{"letter":"A","u":0.157,"w":0.088}]},"mark":{"type":"text","font":"Liberation Serif","fontSize":142,"align":"center","baseline":"alphabetic","color":"black"},"encoding":{"x":{"field":"u","type":"quantitative","scale":{"domain":[0,1]},"axis":null},"y":{"field":"w","type":"quantitative","scale":{"domain":[0,1],"reverse":true},"axis":null},"text":{"field":"letter"}}},
{"encoding":{"theta":{"field":"a","type":"quantitative","stack":null,"scale":{"domain":[0,360],"range":[0,6.28319]}},"theta2":{"field":"a"}},
"resolve":{"scale":{"radius":"independent","color":"independent","angle":"independent"}},
"layer":[
{"data":{"name":"ring"},"mark":{"type":"arc","filled":false,"stroke":"black","strokeWidth":5,"radius":692,"radius2":692},"encoding":{"theta2":{"field":"b"}}},
{"data":{"name":"ticks"},"mark":{"type":"arc","filled":false,"stroke":"#333333","strokeWidth":3,"radius":704,"radius2":692}},
{"data":{"name":"rms"},"mark":{"type":"arc","filled":false,"stroke":"#ff8c1a","strokeWidth":3.5,"radius":676,"radius2":641}},
{"data":{"name":"bmp"},"mark":{"type":"arc","filled":false,"stroke":"#f52a45","strokeWidth":21.5},"encoding":{"radius":{"field":"v","type":"quantitative","scale":{"domain":[0,30],"range":[586,616],"zero":false,"nice":false}},"radius2":{"datum":0}}},
{"data":{"name":"bmm"},"mark":{"type":"arc","filled":false,"stroke":"#3a76d8","strokeWidth":21},"encoding":{"radius":{"field":"v","type":"quantitative","scale":{"domain":[0,30],"range":[586,556],"zero":false,"nice":false}},"radius2":{"datum":0}}},
{"data":{"name":"cogo"},"mark":{"type":"arc","filled":false,"strokeWidth":11.5,"radius":533,"radius2":498,"opacity":1},"encoding":{"color":{"field":"c","type":"nominal","legend":null,"scale":{"domain":["A","B","C","D","E","F","G","H","I","J","K","L","M","N","O","P","Q","R","S","T","U","V","W","X","Y","Z","-"],"range":["#e41a1c","#377eb8","#4daf4a","#984ea3","#ff7f00","#ffff33","#a65628","#f781bf","#ff1493","#458b74","#a52a2a","#528b8b","#8b4513","#6495ed","#8b6508","#556b2f","#8b0000","#483d8b","#d3d3d3","#fa9a9a","#2f4f4f","#8b6914","#008b00","#8b3a62","#20b2aa","#8b636c","#e6e6e6"]}}}},
{"data":{"name":"cogi"},"mark":{"type":"arc","filled":false,"strokeWidth":10.5,"radius":498,"radius2":463,"opacity":1},"encoding":{"color":{"field":"c","type":"nominal","legend":null,"scale":{"domain":["A","B","C","D","E","F","G","H","I","J","K","L","M","N","O","P","Q","R","S","T","U","V","W","X","Y","Z","-"],"range":["#e41a1c","#377eb8","#4daf4a","#984ea3","#ff7f00","#ffff33","#a65628","#f781bf","#ff1493","#458b74","#a52a2a","#528b8b","#8b4513","#6495ed","#8b6508","#556b2f","#8b0000","#483d8b","#d3d3d3","#fa9a9a","#2f4f4f","#8b6914","#008b00","#8b3a62","#20b2aa","#8b636c","#e6e6e6"]}}}},
{"data":{"name":"trna"},"mark":{"type":"arc","filled":false,"stroke":"#ffb066","strokeWidth":2.5,"radius":442,"radius2":408}},
{"data":{"name":"rrna"},"mark":{"type":"arc","filled":false,"stroke":"#4daf4a","strokeWidth":3,"radius":442,"radius2":408}},
{"data":{"name":"skewbase"},"mark":{"type":"arc","radius":352,"radius2":348},"encoding":{"theta2":{"field":"b"},"color":{"field":"s","type":"nominal","legend":null,"scale":{"domain":["p","m"],"range":["#ff7f8f","#f03cf5"]}}}},
{"data":{"name":"skew"},"transform":[{"filter":"datum.v>=0"}],"mark":{"type":"arc","filled":false,"stroke":"#ff7f8f","strokeWidth":5.5},"encoding":{"radius":{"field":"v","type":"quantitative","scale":{"domain":[0,30],"range":[351,381],"zero":false,"nice":false}},"radius2":{"datum":0}}},
{"data":{"name":"skew"},"transform":[{"filter":"datum.v<0"}],"mark":{"type":"arc","filled":false,"stroke":"#f03cf5","strokeWidth":5.5},"encoding":{"radius":{"field":"v","type":"quantitative","scale":{"domain":[0,-30],"range":[351,321],"zero":false,"nice":false}},"radius2":{"datum":0}}},
{"data":{"name":"gcbase"},"mark":{"type":"arc","radius":263,"radius2":260},"encoding":{"theta2":{"field":"b"},"color":{"field":"s","type":"nominal","legend":null,"scale":{"domain":["p","m"],"range":["#2ecc5f","#3a76d8"]}}}},
{"data":{"name":"gc"},"transform":[{"filter":"datum.v>=0"}],"mark":{"type":"arc","filled":false,"stroke":"#2ecc5f","strokeWidth":3.5},"encoding":{"radius":{"field":"v","type":"quantitative","scale":{"domain":[0,30],"range":[262,292],"zero":false,"nice":false}},"radius2":{"datum":0}}},
{"data":{"name":"gc"},"transform":[{"filter":"datum.v<0"}],"mark":{"type":"arc","filled":false,"stroke":"#3a76d8","strokeWidth":3.5},"encoding":{"radius":{"field":"v","type":"quantitative","scale":{"domain":[0,-30],"range":[262,232],"zero":false,"nice":false}},"radius2":{"datum":0}}},
{"data":{"name":"ticks"},"transform":[{"filter":"datum.a<=180"}],"mark":{"type":"text","radius":710,"font":"DejaVu Sans","fontSize":23,"color":"#444444","align":"left","baseline":"middle"},"encoding":{"theta2":null,"text":{"field":"t"},"angle":{"field":"a","type":"quantitative","legend":null,"scale":{"domain":[0,360],"range":[270,630]}}}},
{"data":{"name":"ticks"},"transform":[{"filter":"datum.a>180"}],"mark":{"type":"text","radius":710,"font":"DejaVu Sans","fontSize":23,"color":"#444444","align":"right","baseline":"middle"},"encoding":{"theta2":null,"text":{"field":"t"},"angle":{"field":"a","type":"quantitative","legend":null,"scale":{"domain":[0,360],"range":[90,450]}}}},
{"data":{"values":[{"a":180,"t":"RH-AZ_chr"}]},"mark":{"type":"text","radius":813,"font":"DejaVu Sans","fontWeight":"bold","fontSize":23.5,"color":"#222222","align":"center","baseline":"middle"},"encoding":{"theta2":null,"text":{"field":"t"}}}
]}
]},
{"width":1311,"height":1694,"layer":[
{"data":{"name":"seps"},"mark":{"type":"rule","stroke":"#555555","strokeWidth":3,"strokeDash":[3,7]},"encoding":{"y":{"field":"row","type":"quantitative","scale":{"domain":[-9.62,36.56],"reverse":true,"nice":false,"zero":false},"axis":null},"x":{"datum":-0.15,"type":"quantitative","scale":{"domain":[-0.2408,2.0392],"nice":false,"zero":false},"axis":null},"x2":{"datum":1.906}}},
{"data":{"name":"legendA"},"mark":{"type":"point","filled":true,"opacity":1,"size":1600},"encoding":{"x":{"field":"col","type":"quantitative","axis":null},"y":{"field":"row","type":"quantitative"},"shape":{"field":"kind","type":"nominal","legend":null,"scale":{"domain":["box","hist"],"range":["M-1,-0.7H1V0.7H-1Z","M-1,0.7V0.3H-0.6V-0.2H-0.2V-0.7H0.2V-0.1H0.6V0.3H1V0.7Z"]}},"color":{"field":"key","type":"nominal","legend":null,"scale":{"domain":["RMS","b+","b-","A","B","C","D","E","F","G","H","I","J","K","L","M","N","O","P","Q","R","S","T","U","V","W","X","Y","Z","-","rRNA","tRNA","s+","s-","g+","g-"],"range":["#ff8c00","#f52a45","#3a76d8","#e41a1c","#377eb8","#4daf4a","#984ea3","#ff7f00","#ffff33","#a65628","#f781bf","#ff1493","#458b74","#a52a2a","#528b8b","#8b4513","#6495ed","#8b6508","#556b2f","#8b0000","#483d8b","#d3d3d3","#fa9a9a","#2f4f4f","#8b6914","#008b00","#8b3a62","#20b2aa","#8b636c","#d3d3d3","#2ecc5f","#ff8c00","#ff7f8f","#f03cf5","#2ecc5f","#3a76d8"]}}}},
{"data":{"name":"legendA"},"mark":{"type":"text","align":"left","baseline":"middle","dx":57,"font":"DejaVu Sans","fontSize":31,"color":"#222222"},"encoding":{"x":{"field":"col","type":"quantitative"},"y":{"field":"row","type":"quantitative"},"text":{"field":"label"}}}
]}
],"spacing":0,"bounds":"flush","resolve":{"scale":{"color":"independent","shape":"independent"},"legend":{"color":"independent"}}},
{"hconcat":[
{"width":400,"height":1349,"data":{"values":[{"letter":"B","u":0.635,"w":-0.0135}]},"mark":{"type":"text","font":"Liberation Serif","fontSize":142,"align":"center","baseline":"alphabetic","color":"black"},"encoding":{"x":{"field":"u","type":"quantitative","scale":{"domain":[0,1]},"axis":null},"y":{"field":"w","type":"quantitative","scale":{"domain":[0,1],"reverse":true},"axis":null},"text":{"field":"letter"}}},
{"width":1172,"height":1349,"view":{"stroke":"#7f7f7f","strokeWidth":3},"title":{"text":"COG classification statistics","font":"Liberation Sans","fontWeight":"bold","fontSize":46,"color":"#111111","anchor":"middle","offset":20},
"data":{"name":"cog"},
"encoding":{"x":{"field":"cls","type":"nominal","title":"Functional Class","scale":{"paddingInner":0.2,"paddingOuter":0.2},"axis":{"labelAngle":0,"labelFont":"Liberation Sans","labelFontSize":30,"labelColor":"#333333","titleFont":"Liberation Sans","titleFontSize":36,"titleFontWeight":"normal","titleColor":"#111111","titlePadding":6,"tickSize":10,"tickWidth":3,"tickColor":"#333333","domain":false,"grid":true,"gridColor":"#ebebeb","gridWidth":3,"labelPadding":6}}},
"layer":[
{"data":{"values":[{"m":50},{"m":150},{"m":250},{"m":350}]},"mark":{"type":"rule","stroke":"#f2f2f2","strokeWidth":2},"encoding":{"x":null,"y":{"field":"m","type":"quantitative"}}},
{"mark":{"type":"bar"},"encoding":{"y":{"field":"n","type":"quantitative","title":"Number of Genes","scale":{"domain":[-21.4,451.9],"nice":false,"zero":false},"axis":{"values":[0,100,200,300,400],"labelFont":"Liberation Sans","labelFontSize":30,"labelColor":"#333333","titleFont":"Liberation Sans","titleFontSize":36,"titleFontWeight":"normal","titleColor":"#111111","titlePadding":10,"tickSize":10,"tickWidth":3,"tickColor":"#333333","domain":false,"grid":true,"gridColor":"#ebebeb","gridWidth":3,"labelPadding":6}},"color":{"field":"label","type":"nominal","scale":{"domain":["(C) Energy production and conversion","(D) Cell cycle control, cell division, chromosome partitioning","(E) Amino acid transport and metabolism","(F) Nucleotide transport and metabolism","(G) Carbohydrate transport and metabolism","(H) Coenzyme transport and metabolism","(I) Lipid transport and metabolism","(J) Translation, ribosomal structure and biogenesis","(K) Transcription","(L) Replication, recombination and repair","(M) Cell wall/membrane/envelope biogenesis","(N) Cell motility","(O) Posttranslational modification, protein turnover, chaperones","(P) Inorganic ion transport and metabolism","(Q) Secondary metabolites biosynthesis, transport and catabolism","(R) General function prediction only","(S) Function unknown","(T) Signal transduction mechanisms","(U) Intracellular trafficking, secretion, and vesicular transport","(V) Defense mechanisms","(W) Extracellular structures","(X) Mobilome: prophages, transposons"],"range":["#F8766D","#EA8331","#DC8E00","#C99800","#AFA100","#96A900","#5FB400","#00B81E","#00BE5C","#00C07C","#00BFA5","#00BDC2","#00B8E0","#00AEF6","#00A5FF","#7F96FF","#B184FF","#D574FF","#EF67EB","#FF61CC","#FF63B6","#FF6A98"]},"legend":{"title":null,"orient":"none","legendX":1234,"legendY":131,"symbolType":"square","symbolSize":2209,"symbolStrokeWidth":0,"symbolOpacity":1,"rowPadding":3.4,"labelFont":"Liberation Sans","labelFontSize":28.8,"labelColor":"#222222","labelLimit":1300,"labelOffset":21}}}},
{"mark":{"type":"text","baseline":"bottom","dy":-3,"font":"Liberation Sans","fontSize":30,"color":"#111111"},"encoding":{"y":{"field":"n","type":"quantitative"},"text":{"field":"n"}}}
]}
],"spacing":0,"bounds":"flush","resolve":{"scale":{"color":"independent","shape":"independent"},"legend":{"color":"independent"}}}
]}
